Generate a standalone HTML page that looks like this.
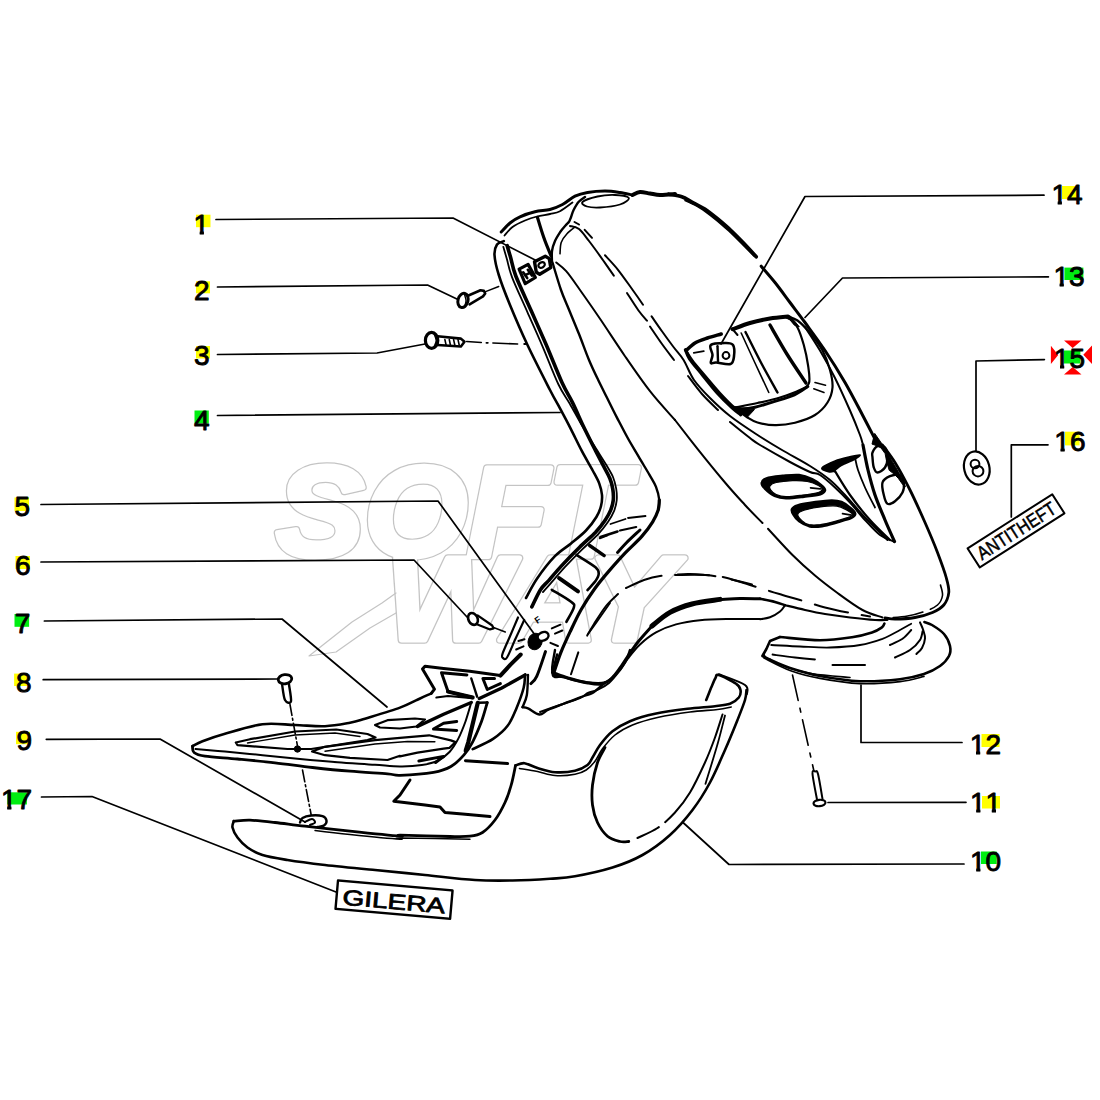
<!DOCTYPE html>
<html><head><meta charset="utf-8"><title>Parts diagram</title>
<style>
html,body{margin:0;padding:0;background:#fff}
body{width:1100px;height:1100px;overflow:hidden}
svg{display:block}
.n{font-family:"Liberation Sans",sans-serif;font-size:28px;fill:#000;stroke:#000;stroke-width:.9px;stroke-linejoin:round}
.wm{font-family:"Liberation Sans",sans-serif;font-weight:bold;font-style:italic;fill:none;stroke:#c4c4c4;stroke-width:1.2px}
.t{font-family:"Liberation Sans",sans-serif;fill:#000;stroke:#000;stroke-width:.6px}
.t0{font-family:"Liberation Sans",sans-serif;fill:#000;stroke:none}
</style></head><body>
<svg width="1100" height="1100" viewBox="0 0 1100 1100">
<rect width="1100" height="1100" fill="#fff"/>
<g fill="none" stroke="#000" stroke-linecap="round" stroke-linejoin="round">
<g class="wm" stroke-linejoin="round" style="stroke-width:7.6px"><text x="276" y="556" font-size="128" textLength="352.7" lengthAdjust="spacingAndGlyphs">SOFT</text><text x="386.5" y="640" font-size="119" textLength="288.2" lengthAdjust="spacingAndGlyphs">WAY</text></g>
<g class="wm" stroke-linejoin="round" style="fill:#fff;stroke:#fff;stroke-width:5.2px"><text x="276" y="556" font-size="128" textLength="352.7" lengthAdjust="spacingAndGlyphs">SOFT</text><text x="386.5" y="640" font-size="119" textLength="288.2" lengthAdjust="spacingAndGlyphs">WAY</text></g>
<path class="wm" d="M396 593 L382 603 L352 622 L309 656 L336 652 L370 628 L396 613"/>
<g stroke="none">
<rect x="196" y="214.7" width="14.5" height="12.5" fill="#ffff00"/>
<rect x="196" y="281.3" width="14" height="12" fill="#ffff00"/>
<rect x="196" y="346" width="14" height="12.5" fill="#ffff00"/>
<rect x="194.5" y="410.5" width="14.3" height="13" fill="#00ee11"/>
<rect x="14.5" y="497.5" width="14.5" height="13.5" fill="#ffff00"/>
<rect x="15.5" y="556" width="14.5" height="13" fill="#ffff00"/>
<rect x="14.5" y="614" width="14.6" height="12.8" fill="#00ee11"/>
<rect x="14.1" y="673.6" width="14" height="12.4" fill="#ffff00"/>
<rect x="16" y="731.8" width="14" height="12.4" fill="#ffff00"/>
<rect x="7.3" y="792.3" width="19.6" height="12.2" fill="#00ee11"/>
<rect x="1062" y="186" width="14.7" height="13" fill="#ffff00"/>
<rect x="1064.4" y="267.6" width="19" height="12.4" fill="#00ee11"/>
<rect x="1063.6" y="350.5" width="16.8" height="13" fill="#00ee11"/>
<rect x="1065" y="431.7" width="14.6" height="13.7" fill="#ffff00"/>
<rect x="981.5" y="734" width="18" height="13" fill="#ffff00"/>
<rect x="982" y="796" width="18" height="12.5" fill="#ffff00"/>
<rect x="981" y="851.5" width="15.7" height="12.5" fill="#00ee11"/>
<path fill="#ff0000" d="M1050.9 345.8L1058.2 354.9L1050.9 364Z M1092 345.5L1083.3 354.8L1092 364Z M1064 340.4L1072.7 348L1081.5 340.4Z M1064 374.5L1072.7 366.9L1081.5 374.5Z"/>
</g>
<clipPath id="c1"><path d="M189.5 202.3H237.5V231H189.5Z M199.7 231H203.9V237.3H199.7Z"/></clipPath>
<text class="n" x="193.5" y="234.3" clip-path="url(#c1)">1</text>
<text class="n" x="194" y="299.8">2</text>
<text class="n" x="194" y="364.8">3</text>
<text class="n" x="194" y="430">4</text>
<text class="n" x="14.5" y="515.8">5</text>
<text class="n" x="15" y="574.8">6</text>
<text class="n" x="14.8" y="633">7</text>
<text class="n" x="16" y="691.8">8</text>
<text class="n" x="16.6" y="750">9</text>
<clipPath id="c2"><path d="M-3 777H45V806H-3Z M7.2 806H11.4V812H7.2Z M16.6 806H32.1V812H16.6Z"/></clipPath>
<text class="n" x="1 16.6" y="809" clip-path="url(#c2)">17</text>
<clipPath id="c3"><path d="M1047.5 171.6H1095.5V200H1047.5Z M1057.7 200H1061.9V206.6H1057.7Z M1067.1 200H1082.6V206.6H1067.1Z"/></clipPath>
<text class="n" x="1051.5 1067.1" y="203.6" clip-path="url(#c3)">14</text>
<clipPath id="c4"><path d="M1049.4 254.3H1097.4V283H1049.4Z M1059.6 283H1063.8V289.3H1059.6Z M1069 283H1084.5V289.3H1069Z"/></clipPath>
<text class="n" x="1053.4 1069" y="286.3" clip-path="url(#c4)">13</text>
<clipPath id="c5"><path d="M1049.8 336.4H1097.8V365H1049.8Z M1060 365H1064.2V371.4H1060Z M1069.4 365H1084.9V371.4H1069.4Z"/></clipPath>
<text class="n" x="1053.8 1069.4" y="368.4" clip-path="url(#c5)">15</text>
<clipPath id="c6"><path d="M1050.3 419.2H1098.3V448H1050.3Z M1060.5 448H1064.7V454.2H1060.5Z M1069.9 448H1085.4V454.2H1069.9Z"/></clipPath>
<text class="n" x="1054.3 1069.9" y="451.2" clip-path="url(#c6)">16</text>
<clipPath id="c7"><path d="M965.8 721.8H1013.8V751H965.8Z M976 751H980.2V756.8H976Z M985.4 751H1000.9V756.8H985.4Z"/></clipPath>
<text class="n" x="969.8 985.4" y="753.8" clip-path="url(#c7)">12</text>
<clipPath id="c8"><path d="M966 780.3H1014V809H966Z M976.2 809H980.4V815.3H976.2Z M991.8 809H996V815.3H991.8Z"/></clipPath>
<text class="n" x="970 985.6" y="812.3" clip-path="url(#c8)">11</text>
<clipPath id="c9"><path d="M966 839H1014V868H966Z M976.2 868H980.4V874H976.2Z M985.6 868H1001.1V874H985.6Z"/></clipPath>
<text class="n" x="970 985.6" y="871" clip-path="url(#c9)">10</text>
<path d="M216 219.5 L453 218 L541 263" stroke-width="1.7"/>
<path d="M217.5 287 L427.5 285 L459 300" stroke-width="1.7"/>
<path d="M217.5 354.5 L377 353 L425 344" stroke-width="1.7"/>
<path d="M217.5 415.5 L560 412.5" stroke-width="1.7"/>
<path d="M41 504.5 L438 501 L535 635" stroke-width="1.7"/>
<path d="M41 562 L414 560 L467.5 617.5" stroke-width="1.7"/>
<path d="M44.4 621 L282 619 L387 707" stroke-width="1.7"/>
<path d="M43.2 679.7 L277 679" stroke-width="1.7"/>
<path d="M46.3 739.3 L160 739 L305 822" stroke-width="1.7"/>
<path d="M41.5 797 L92 796.5 L336 892" stroke-width="1.7"/>
<path d="M1044 195.2 L805 196.5 L721 344" stroke-width="1.7"/>
<path d="M1048.4 276.8 L842.5 278 L805 317.5" stroke-width="1.7"/>
<path d="M1044.4 359.6 L976 361 L976 451" stroke-width="1.7"/>
<path d="M1048 444.8 L1011.3 444.8 L1011.3 517" stroke-width="1.7"/>
<path d="M962 742.5 L861 742.5 L861 685" stroke-width="1.7"/>
<path d="M966 802.3 L828 802.5" stroke-width="1.7"/>
<path d="M964 864 L729 864.5 L683 822.5" stroke-width="1.7"/>
<path d="M503.8 241.2 C502.6 241.8 498.5 242.2 497 244.5 C495.5 246.8 494.2 249.9 494.5 255 C494.8 260.1 496.2 266.7 498.8 275 C501.3 283.3 505.2 293.3 510 305 C514.8 316.7 520.8 330.8 527.5 345 C534.2 359.2 544.6 379.4 550 390 C555.4 400.6 556.5 401.9 560 408.4 C563.5 414.9 567.3 422 570.9 429.1 C574.5 436.2 578.2 444 581.8 450.9 C585.4 457.8 589.8 465.1 592.7 470.5 C595.6 475.9 597.8 479.5 599.3 483.6 C600.8 487.7 601.7 491.3 602 495 C602.3 498.7 601.9 502.3 601 506 C600.1 509.7 598.9 512.9 596.4 517 C593.9 521.1 590.2 526.1 586 530.5 C581.8 534.9 576.2 539.2 571 543.5 C565.8 547.8 560.3 550.6 554.7 556.4 C549.1 562.2 542.1 571.3 537.3 578.2 C532.5 585.1 527.9 594.7 526 598" stroke-width="2.6"/>
<path d="M507.2 245.7 C507.7 247.7 509.2 252.6 510.7 257.7 C512.1 262.7 512.4 267.2 515.8 276 C519.2 284.8 526.1 299.1 531.1 310.5 C536.1 321.9 540.9 332.5 546.1 344.5 C551.3 356.6 557.7 373.2 562.1 382.8 C566.5 392.4 568.9 395.3 572.4 402.4 C575.9 409.5 579.5 418.1 583 425.5 C586.5 432.8 589.9 439.5 593.3 446.3 C596.8 453.1 600.9 460.9 603.6 466.2 C606.4 471.5 608.3 474.4 609.8 478.3 C611.4 482.1 612.2 485.5 612.8 489.1 C613.4 492.8 613.6 496.5 613.3 500 C613 503.4 612.1 506.6 610.8 509.9 C609.5 513.2 607.9 516.1 605.3 519.9 C602.8 523.6 599.7 527.8 595.4 532.4 C591 536.9 584.8 542 579.4 547.4 C573.9 552.7 568 558.8 562.9 564.4 C557.7 569.9 552.1 576.6 548.4 580.9 C544.6 585.1 543.1 585.6 540.3 589.9 C537.6 594.2 533.2 604.1 531.8 606.9" stroke-width="3.6"/>
<path d="M503.3 246.8 C503.9 248.8 505.3 253.7 506.8 258.8 C508.3 263.9 508.7 268.5 512.1 277.4 C515.5 286.3 522.4 300.7 527.4 312.1 C532.5 323.6 537.3 334 542.4 346.1 C547.6 358.2 553.9 374.9 558.5 384.5 C563 394.1 565.8 396.8 569.8 403.7 C573.7 410.6 578.1 418.8 582.2 425.9 C586.3 432.9 590.3 439.3 594.3 445.8 C598.3 452.3 603.1 459.6 606.2 464.8 C609.3 470 611.3 473 613 477 C614.6 480.9 615.5 484.7 616.2 488.6 C616.8 492.5 617.1 496.5 616.7 500.3 C616.3 504.1 615.4 507.6 614 511.2 C612.5 514.8 610.8 517.9 608.1 521.8 C605.4 525.7 602.2 530 597.8 534.7 C593.4 539.4 587.2 544.5 581.7 549.8 C576.3 555.1 570.5 561.1 565.3 566.7 C560.2 572.2 554.6 578.9 550.9 583.1 C547.2 587.4 544.2 590.6 542.9 592.1" stroke-width="1.8"/>
<path d="M537.5 217.5 C538.5 220.8 541.5 231 543.8 237.5 C546 244 550 253.1 551.2 256.2" stroke-width="3.2"/>
<path d="M552.5 262.5 C553.9 267.1 558.3 282.2 561 290 C563.7 297.8 565.7 301.7 568.7 309 C571.7 316.3 575.5 325.3 578.9 333.8 C582.3 342.3 585.8 352.3 589 360 C592.2 367.7 595.2 373.8 598.2 380 C601.2 386.2 603.8 391.3 606.9 397.5 C610 403.7 613.2 410.4 616.7 417.1 C620.2 423.8 624 431.2 627.6 437.8 C631.2 444.4 634.9 450.2 638.5 456.4 C642.1 462.6 646.6 469.8 649.5 474.9 C652.4 480 654.4 482.7 656 486.9 C657.6 491.1 658.9 496.1 659.3 500 C659.7 503.9 658.4 508.3 658.2 510" stroke-width="2.4"/>
<path d="M659.3 500 C659.1 501.7 659.3 506.4 658.2 510 C657.1 513.6 655.4 517.4 652.7 521.8 C650 526.2 646.3 531.2 641.8 536.4 C637.3 541.5 631 547 625.5 552.7 C620 558.5 614.3 564.9 609.1 570.9 C603.9 576.9 599.1 582.6 594.5 589 C589.9 595.4 585.2 602.5 581.2 609.5 C577.2 616.5 573.9 623.8 570.5 631 C567.1 638.2 563.5 645.8 560.7 652.9 C557.9 660 554.8 670.1 553.6 673.6" stroke-width="3.2"/>
<path d="M552 262 C552 260.2 551.5 254.5 552 251 C552.5 247.5 553.6 244.2 555 241 C556.4 237.8 558.5 234.6 560.2 232 C562 229.4 564 227.2 565.5 225.5 C567 223.8 568.1 223.1 569 221.8 C569.9 220.4 570.2 219.2 571 217.2 C571.8 215.3 572.2 212.8 573.5 210.2 C574.8 207.7 576.6 204.2 578.5 202 C580.4 199.8 583.9 197.8 585 197" stroke-width="2.4"/>
<path d="M560 253.8 C560.2 251.9 560.1 245.8 561.2 242.5 C562.4 239.2 564.7 236.3 567 233.8 C569.3 231.2 573.7 228.1 575 227" stroke-width="1.6"/>
<path d="M556.2 262.5 C557.9 264 562.3 266.7 566.2 271.2 C570.2 275.8 574.4 282.1 580 290 C585.6 297.9 592.5 307.7 600 318.8 C607.5 329.8 616.7 344.2 625 356.2 C633.3 368.3 641.7 380.6 650 391.2 C658.3 401.9 670.8 415.2 675 420" stroke-width="2"/>
<path d="M574.5 222 L579 224.5" stroke-width="2"/>
<path d="M584.7 229.8 L592 237.8" stroke-width="2"/>
<path d="M605 255.3 C607.2 257.7 613.4 264 618 269.8 C622.6 275.6 628.5 284.2 632.7 290 C636.9 295.8 641.3 302.2 643 304.7" stroke-width="2"/>
<path d="M651.6 316.4 C653.3 318.8 658.1 325.9 661.8 331 C665.4 336.1 669.9 342.2 673.5 347 C677.1 351.8 680.2 354.5 683.6 360 C687 365.5 689.6 373.7 694 380 C698.4 386.3 704 392 710 398 C716 404 722.3 410 730 416 C737.7 422 747.3 428.3 756 434 C764.7 439.7 773 444.7 782 450 C791 455.3 802 461 810 466 C818 471 824.2 475.2 830 480 C835.8 484.8 839.2 488.8 845 495 C850.8 501.2 857.9 510 865 517.5 C872.1 525 883.8 536.2 887.5 540" stroke-width="2"/>
<path d="M570 226 C571.5 226.5 575.8 226.5 579 229 C582.2 231.5 584.9 235.7 589 241 C593.1 246.3 599.5 255.2 603.6 261 C607.7 266.8 612.1 273.2 613.8 275.6" stroke-width="2"/>
<path d="M627 293 C628.9 295.9 635.2 305.9 638.5 310.5 C641.8 315.1 645.6 319 647 320.7" stroke-width="2"/>
<path d="M650 326.5 C652 329.4 658 338.4 662 344 C666 349.6 672 357.3 674 360" stroke-width="2"/>
<path d="M688 376 C690.3 379 697 388.3 702 394 C707 399.7 715.3 407.3 718 410" stroke-width="2"/>
<path d="M730 422 C733.3 424.7 745 434.2 750 438 C755 441.8 753.3 441 760 445 C766.7 449 781.7 457.5 790 462 C798.3 466.5 805 469.8 810 472 C815 474.2 815.8 472.4 820 475 C824.2 477.6 830 482.9 835 487.5 C840 492.1 845 497.1 850 502.5 C855 507.9 860 514.6 865 520 C870 525.4 875.2 531.4 880 535 C884.8 538.6 891.5 540.4 893.8 541.5" stroke-width="2"/>
<path d="M501.2 232 C502.7 230.5 506.9 225.5 510 223 C513.1 220.5 515.8 218.6 520 216.8 C524.2 214.9 530 213 535 211.8 C540 210.5 545.4 210.7 550 209.5 C554.6 208.3 558.3 206.7 562.5 204.5 C566.7 202.3 570.8 198.2 575 196.2 C579.2 194.2 582.5 193.4 587.5 192.5 C592.5 191.6 599.6 191 605 191 C610.4 191 615.4 191.8 620 192.5 C624.6 193.2 630.4 194.6 632.5 195" stroke-width="3"/>
<path d="M504.5 235.5 C505.8 234.1 509.1 229.5 512.5 227 C515.9 224.5 520.9 222.2 525 220.5 C529.1 218.8 532.8 217.6 537 216.5 C541.2 215.4 546.2 214.9 550 214 C553.8 213.1 556.2 213.2 560 211.2 C563.8 209.3 570.4 204 572.5 202.5" stroke-width="1.8"/>
<path d="M582.5 202 C584.2 200.3 592.1 197.7 597.5 196.5 C602.9 195.3 609.8 194.8 615 195 C620.2 195.2 627.9 196.4 628.8 198 C629.6 199.6 624.8 202.9 620 204.5 C615.2 206.1 605.5 207.2 600 207.5 C594.5 207.8 589.9 207.4 587 206.5 C584.1 205.6 580.8 203.7 582.5 202Z" stroke-width="1.8"/>
<path d="M632.5 195 C633.8 194.5 637.1 192.2 640 192 C642.9 191.8 646.7 193 650 193.5 C653.3 194 655.8 194.9 660 195 C664.2 195.1 672.5 194.2 675 194" stroke-width="4"/>
<path d="M518 617.5 C516.7 620.6 512.6 630.2 510 636.2 C507.4 642.3 503.7 650.1 502.5 653.8 C501.3 657.4 502.2 657.4 503 658 C503.8 658.6 504.9 660.7 507 657.5 C509.1 654.3 512.6 645 515.5 638.8 C518.4 632.5 522.8 623.1 524.2 620" stroke-width="2.2"/>
<path d="M552.4 672.4 C555 673.3 562.1 676.2 568 678 C573.9 679.8 582.3 682 588 683 C593.7 684 598 684.8 602 684 C606 683.2 609 680.7 612 678 C615 675.3 617.3 671.7 620 668 C622.7 664.3 625 660.3 628 656 C631 651.7 634 647 638 642 C642 637 649.7 628.7 652 626" stroke-width="3"/>
<path d="M652 626 C655 623.7 663.3 616.1 670 612.4 C676.7 608.7 683.7 606.2 692 604 C700.3 601.8 715.3 600.2 720 599.4" stroke-width="5"/>
<path d="M720 599.4 C723.3 599.3 733.3 598.7 740 598.6 C746.7 598.5 756.7 598.8 760 598.8" stroke-width="3"/>
<path d="M618 594 C616 596 610 601 606 606 C602 611 597.1 619.1 594 624 C590.9 628.9 588.3 633.7 587.2 635.6" stroke-width="2"/>
<path d="M626 588 C629 586.7 638.3 582 644 580 C649.7 578 652.7 577 660 576 C667.3 575 680.3 574.2 688 574 C695.7 573.8 700.7 574.5 706 575 C711.3 575.5 714.7 576 720 577 C725.3 578 732.7 579.8 738 581 C743.3 582.2 749.7 583.8 752 584.4" stroke-width="2" stroke-dasharray="38 16"/>
<path d="M760 619 C755 619 740 618.8 730 619 C720 619.2 709 619.3 700 620.2 C691 621.1 683.3 622.4 676 624.4 C668.7 626.4 662 629.1 656 632.4 C650 635.7 644.7 640.1 640 644.4 C635.3 648.7 631.3 654.1 628 658.4 C624.7 662.7 623.2 666.3 620 670.4 C616.8 674.5 612.7 679.8 609 683 C605.3 686.2 601.5 687.9 598 689.6 C594.5 691.3 591 691.6 588 693 C585 694.4 584.7 696 580 698 C575.3 700 566.7 702.7 560 705 C553.3 707.3 543.3 710.8 540 712" stroke-width="2"/>
<path d="M675 420 C678.8 424.8 689.2 438.3 697.5 448.8 C705.8 459.2 717.1 473.1 725 482.5 C732.9 491.9 738.8 498.2 745 505 C751.2 511.8 759.6 520 762.5 523" stroke-width="2"/>
<path d="M768 528.8 C772.1 533.1 784.7 547.2 792.5 555 C800.3 562.8 807.5 569.2 815 575.5 C822.5 581.8 829.6 587.2 837.5 593 C845.4 598.8 855 605.9 862.5 610 C870 614.1 879.2 616.2 882.5 617.5" stroke-width="2"/>
<path d="M882.5 445 C884.6 447.9 890.4 455 895 462.5 C899.6 470 905 480 910 490 C915 500 920.4 512.1 925 522.5 C929.6 532.9 934 543.3 937.5 552.5 C941 561.7 944.4 570.8 946.2 577.5 C948.1 584.2 949.2 587.9 948.8 592.5 C948.3 597.1 946.5 601.7 943.8 605 C941 608.3 937.3 610.4 932.5 612.5 C927.7 614.6 921.2 616.4 915 617.5 C908.8 618.6 900 619 895 619 C890 619 886.7 618 885 617.8" stroke-width="2.8"/>
<path d="M940.5 585 C940.8 586.8 943 592.2 942.5 595.5 C942 598.8 940.4 602.4 937.5 605 C934.6 607.6 930 609.4 925 611.2 C920 613.1 913.8 614.9 907.5 616 C901.2 617.1 890.8 617.7 887.5 618" stroke-width="1.6" stroke-dasharray="30 8"/>
<path d="M675 575 C680 575 696.7 574.6 705 575 C713.3 575.4 717.5 575.8 725 577.5 C732.5 579.2 742.5 582.7 750 585 C757.5 587.3 764.6 589.6 770 591.2 C775.4 592.9 777.5 593.5 782.5 595 C787.5 596.5 792.9 597.9 800 600 C807.1 602.1 816.7 605.3 825 607.5 C833.3 609.7 842.5 611.5 850 613 C857.5 614.5 866.7 615.9 870 616.5" stroke-width="2" stroke-dasharray="34 14"/>
<path d="M760 598.8 C762.5 599.3 770.8 600.9 775 602 C779.2 603.1 783.3 604.7 785 605.2" stroke-width="2.6"/>
<path d="M760 619.2 C761.7 618.9 766.7 618.5 770 617.2 C773.3 616 777.5 613.5 780 611.5 C782.5 609.5 784.2 606.3 785 605.2" stroke-width="2"/>
<path d="M785 605.2 C788.3 606 798.3 608.5 805 610 C811.7 611.5 817.5 612.8 825 614 C832.5 615.2 841.7 616.5 850 617.5 C858.3 618.5 868.8 619.6 875 620 C881.2 620.4 885.4 619.8 887.5 619.8" stroke-width="2.2"/>
<path d="M761.5 483 C761.7 481.2 762.8 479.3 766.4 478.1 C769.9 476.9 777.3 476.2 782.7 475.6 C788.2 475.1 794.2 474.3 799.1 474.8 C804 475.4 808.4 477.1 812.2 478.9 C816 480.7 819.8 483.5 822 485.5 C824.2 487.4 825.5 488.9 825.3 490.4 C825 491.9 823.9 493.4 820.4 494.5 C816.8 495.5 809.7 496.2 804 496.9 C798.3 497.6 790.9 498.7 786 498.5 C781.1 498.4 778.1 497.7 774.5 496.1 C771 494.5 766.9 490.9 764.7 488.7 C762.5 486.5 761.2 484.8 761.5 483Z" stroke-width="2" fill="#000"/>
<path d="M770 485.8 C770.9 484.5 772.4 483.4 776.2 482.5 C779.9 481.7 787.4 480.9 792.5 480.7 C797.7 480.5 803 480.7 807.3 481.5 C811.6 482.3 815.9 484.1 818.4 485.5 C820.9 486.8 822.2 488.3 822 489.5 C821.8 490.8 820.4 491.9 817.1 492.8 C813.8 493.7 807.5 494.5 802.4 495.1 C797.2 495.8 790.4 496.9 786 496.7 C781.6 496.6 778.7 495.6 776.2 494.5 C773.6 493.3 771.8 491.5 770.8 490 C769.7 488.6 769.1 487 770 485.8Z" stroke-width="1.2" fill="#fff"/>
<path d="M810.5 487.9 L820.4 488.9" stroke-width="1.6"/>
<path d="M791.7 509.2 C792.4 507.5 793.5 506.3 797.5 505.1 C801.4 503.9 809.7 502.6 815.5 501.8 C821.2 501 827.5 500.2 831.8 500.2 C836.2 500.2 838.4 500.5 841.6 501.8 C844.9 503.2 849.1 506.3 851.5 508.4 C853.8 510.4 855.5 512.5 855.5 514.1 C855.5 515.7 854.3 516.8 851.5 518.2 C848.6 519.5 843.3 520.9 838.4 522.3 C833.5 523.6 826.9 525.7 822 526.4 C817.1 527 812.7 527.2 808.9 526.4 C805.1 525.5 801.7 523.4 799.1 521.5 C796.5 519.5 794.6 517 793.4 514.9 C792.1 512.9 791 510.8 791.7 509.2Z" stroke-width="2" fill="#000"/>
<path d="M797.8 514.4 C798.1 512.7 800.2 511.6 804 510.3 C807.8 509.1 814.9 507.6 820.4 506.9 C825.8 506.2 832.1 505.4 836.7 506.1 C841.3 506.7 845.2 509.3 847.9 510.8 C850.5 512.3 852.7 513.8 852.8 514.9 C852.8 516 851.1 516.3 848.2 517.4 C845.2 518.4 839.7 520.1 835.1 521.3 C830.5 522.5 824.7 524 820.4 524.6 C816 525.1 812 525.2 808.9 524.6 C805.8 523.9 803.7 522.3 801.9 520.6 C800 518.9 797.4 516.1 797.8 514.4Z" stroke-width="1.2" fill="#fff"/>
<path d="M842.5 513.6 L851.5 515.1" stroke-width="1.6"/>
<path d="M863 445 C863.8 449.2 866 461.7 868 470 C870 478.3 872.2 486.7 875 495 C877.8 503.3 881.8 512.2 885 520 C888.2 527.8 892.9 537.9 894.5 541.5" stroke-width="3.2"/>
<path d="M874.9 433.7 L883.1 445.5 L892 461 L898.2 471.6 L905.5 486.7 L902.8 484.7 L898.2 478.2 L894.1 474.1 L889.2 470.3 L886.7 461.8 L885.1 453.6 L881 447.9 L876.1 445.5 L872 444.1 L873.3 438.9Z" fill="#000" stroke-width="1"/>
<path d="M835 471.2 C837.5 475.2 844.2 486.9 850 495 C855.8 503.1 863.3 512.5 870 520 C876.7 527.5 886.7 536.7 890 540" stroke-width="2.2"/>
<path d="M822 467.8 C823.1 466 830.5 462.7 835.1 460.9 C839.7 459.1 845.7 457.8 849.8 456.8 C854 455.8 859.1 454.6 860 455 C860.8 455.4 857.8 457.6 854.7 459.3 C851.7 461 845.1 463.4 841.6 465.3 C838.1 467.3 836 470 833.8 471.1 C831.6 472.1 830.5 472.3 828.5 471.7 C826.6 471.2 820.9 469.6 822 467.8Z" stroke-width="1.6" fill="#000"/>
<path d="M822.5 468.8 L835 471.5" stroke-width="2"/>
<path d="M855 457.5 C855.5 459.6 856.3 465 858 470 C859.7 475 862.2 481.2 865 487.5 C867.8 493.8 873.3 504.2 875 507.5" stroke-width="1.8"/>
<path d="M872.5 452.5 C873.3 450.6 875.4 447.1 877.5 446.2 C879.6 445.4 883.3 445.6 885 447.5 C886.7 449.4 887.5 454.2 887.5 457.5 C887.5 460.8 886.7 465 885 467.5 C883.3 470 879.4 472.5 877.5 472.5 C875.6 472.5 874.6 470 873.8 467.5 C872.9 465 872.7 460 872.5 457.5 C872.3 455 871.7 454.4 872.5 452.5Z" stroke-width="2.4"/>
<path d="M882.5 482.5 C883.5 479.4 887.1 477.5 890 476.2 C892.9 475 897.7 474 900 475 C902.3 476 903.3 479.6 903.8 482.5 C904.2 485.4 904 489.4 902.5 492.5 C901 495.6 897.5 499.4 895 501.2 C892.5 503.1 889.4 504.8 887.5 503.8 C885.6 502.7 884.6 498.5 883.8 495 C882.9 491.5 881.5 485.6 882.5 482.5Z" stroke-width="2.4"/>
<path d="M884.4 623.6 C883.9 624.3 883.7 626.1 881.6 627.6 C879.5 629.1 876.9 630.8 872 632.4 C867.1 634 860.7 635.9 852 637.2 C843.3 638.5 832 640.2 820 640.2 C808 640.2 786.7 637.5 780 637" stroke-width="2.6"/>
<path d="M780 637 L770 641 L766.4 649 L762.4 656 L770 659.6" stroke-width="2.6"/>
<path d="M770 659.6 C773.3 661 781.7 665.3 790 668 C798.3 670.7 808.3 673.8 820 676 C831.7 678.2 846.7 680.7 860 681.2 C873.3 681.7 889.3 680.4 900 679.2 C910.7 678 917.3 676.2 924 674 C930.7 671.8 935.8 669 940 666 C944.2 663 947.3 659.3 949 656 C950.7 652.7 950.8 649.7 950 646 C949.2 642.3 947 637.5 944 634 C941 630.5 935.3 627 932 625 C928.7 623 925.7 622.5 924.4 622" stroke-width="2.6"/>
<path d="M920 622.4 C920.5 623.7 922.4 627.3 923.2 630 C924 632.7 925.2 635.4 925 638.4 C924.8 641.4 923.4 645.4 922 648 C920.6 650.6 917.3 653 916.4 654" stroke-width="2"/>
<path d="M764 658 C768.3 660.1 780.7 667 790 670.4 C799.3 673.8 808.3 676.2 820 678.4 C831.7 680.6 846.7 683.1 860 683.6 C873.3 684.1 889.3 682.8 900 681.6 C910.7 680.4 920 677.3 924 676.4" stroke-width="1.6"/>
<path d="M771.2 645 C776 645.2 790.2 646.1 800 646.5 C809.8 646.9 820 647.8 830 647.5 C840 647.2 851.2 646.5 860 645 C868.8 643.5 875.8 641.2 882.5 638.8 C889.2 636.2 895.2 632.5 900 630 C904.8 627.5 909.4 624.8 911.2 623.8" stroke-width="1.8"/>
<path d="M772.5 654.5 C776.2 655 787.9 656.7 795 657.5 C802.1 658.3 811.7 659.2 815 659.5" stroke-width="1.8"/>
<path d="M832.5 665 L865 665" stroke-width="2" stroke-dasharray="50 14"/>
<path d="M895 657.5 C897.5 656.2 905.8 652.9 910 650 C914.2 647.1 917.8 643.5 920 640 C922.2 636.5 922.5 630.6 923 628.8" stroke-width="2" stroke-dasharray="40 14"/>
<path d="M890 645 C892.1 644 899 641.2 902.5 638.8 C906 636.2 909.8 631.5 911.2 630" stroke-width="2" stroke-dasharray="30 12"/>
<path d="M668.8 194.2 C670.9 194.7 678 195.5 681.8 196.8 C685.5 198 687.7 199.7 691.5 201.8 C695.3 203.8 700.4 206.1 704.8 209 C709.1 211.9 713.4 215.4 717.8 219 C722.1 222.6 726.6 226.4 731 230.5 C735.4 234.6 739.8 239.1 744 243.5 C748.2 247.9 754.2 254.5 756.2 256.8" stroke-width="3.6"/>
<path d="M685 200.5 C687.5 201.8 695 204.9 700 208 C705 211.1 710.2 215.2 715 219 C719.8 222.8 724.2 226.8 728.8 231 C733.2 235.2 737.8 239.8 742 244 C746.2 248.2 751.8 254 753.8 256" stroke-width="1.6"/>
<path d="M761.2 266.2 C763.5 269 770.2 276.5 775 282.5 C779.8 288.5 785 295.8 790 302.5 C795 309.2 799.2 314.5 805 322.5 C810.8 330.5 818.3 340.5 825 350.5 C831.7 360.5 838.8 371.8 845 382.5 C851.2 393.2 857 404.6 862.5 415 C868 425.4 875.4 440 878 445" stroke-width="3"/>
<path d="M805 327 C807.5 330.9 815 342 820 350.5 C825 359 830 368 835 378 C840 388 845.8 401 850 410.5 C854.2 420 857.8 429.2 860 435 C862.2 440.8 862.5 443.3 863 445" stroke-width="2"/>
<path d="M686.2 350.5 C687.7 349.2 691.5 345.1 695 343 C698.5 340.9 703.1 339.5 707.5 338 C711.9 336.5 719 334.7 721.2 334" stroke-width="3.6"/>
<path d="M686.2 350.5 C687.3 352.2 689.4 356.3 692.5 360.5 C695.6 364.7 700.4 370.1 705 375.5 C709.6 380.9 715 387.6 720 393 C725 398.4 730.4 403.9 735 408 C739.6 412.1 743.8 415.1 747.5 417.5 C751.2 419.9 752.9 421.2 757.5 422.5 C762.1 423.8 768.8 425.2 775 425.2 C781.2 425.3 788.3 424.5 795 422.8 C801.7 421 809.6 418.4 815 415 C820.4 411.6 824.6 407.1 827.5 402.5 C830.4 397.9 832.1 392.9 832.5 387.5 C832.9 382.1 831.7 376.2 830 370 C828.3 363.8 825.8 356.7 822.5 350.5 C819.2 344.3 814.2 338 810 333 C805.8 328 801.2 323.2 797.5 320.5 C793.8 317.8 789.6 317.2 788 316.5" stroke-width="2.2"/>
<path d="M732.5 329.2 C735.4 328.2 743.8 324.8 750 323 C756.2 321.2 763.7 319.6 770 318.5 C776.3 317.4 785 316.8 788 316.5" stroke-width="4"/>
<path d="M788 316.5 C789.6 318.3 794.9 322.8 797.5 327.5 C800.1 332.2 802 338.8 803.8 345 C805.5 351.2 807.1 358.7 808 365 C808.9 371.3 810.3 378.8 809 383 C807.7 387.2 804.8 387.6 800 390 C795.2 392.4 787.1 395.3 780 397.5 C772.9 399.7 765.2 401.3 757.5 403 C749.8 404.7 737.9 407 734 407.8" stroke-width="2.2"/>
<path d="M732.5 329.2 L737.5 335" stroke-width="2"/>
<path d="M741.2 333 C743.5 338 750.4 353.1 755 363 C759.6 372.9 766.5 387.6 768.8 392.5" stroke-width="1.6"/>
<path d="M745.5 332 C748.1 337.2 755.9 352.9 761.2 363 C766.6 373.1 774.8 387.6 777.5 392.5" stroke-width="2.4"/>
<path d="M770 325 C772.9 330 781.5 345.3 787.5 355 C793.5 364.7 802.9 378.3 806 383" stroke-width="3.4"/>
<path d="M732 407 L747.5 417 L754.5 409.5 L742.5 410Z" fill="#000" stroke-width="1"/>
<path d="M693.8 352.8 L703.8 351.2" stroke-width="1.8"/>
<path d="M815 382.5 L825.5 385.2" stroke-width="1.6"/>
<path d="M813.8 388.8 L824 392.5" stroke-width="1.6"/>
<path d="M710.8 345 C712.8 343 721.3 343 725 343 C728.7 343 731.5 342.8 733 345 C734.5 347.2 734.4 353.1 734 356.2 C733.6 359.4 733.5 363 730.5 364 C727.5 365 719.5 362.7 716.2 362.5 C713 362.3 711.4 364.2 710.8 363 C710.1 361.8 712.5 358 712.5 355 C712.5 352 708.7 347 710.8 345Z" stroke-width="2.6"/>
<circle cx="726" cy="355.5" r="3.4" stroke-width="2"/>
<path d="M717.5 346.2 L718 361.2" stroke-width="2.4"/>
<path d="M685.5 349.7 C686.2 351.2 686.8 354.5 689.6 358.7 C692.5 363 698.1 369.4 702.7 375.1 C707.4 380.8 712.5 387.6 717.5 393.1 C722.4 398.5 728.3 404.2 732.2 407.8 C736.1 411.4 739.3 413.5 740.7 414.7" stroke-width="3.4"/>
<path d="M782.9 316.2 L790.3 315.9 L799.3 326.8 L794.4 325.2 L790.3 320.3Z" fill="#000" stroke-width="1"/>
<path d="M733.8 407.2 C735.2 407.4 738.5 408.8 742 408.8 C745.5 408.8 749.6 408.4 755.1 407.2 C760.5 405.9 768.2 403.5 774.7 401.4 C781.3 399.4 788.9 397.4 794.4 394.9 C799.9 392.4 805.5 387.9 807.8 386.5" stroke-width="3"/>
<path d="M192.5 746.2 C194.2 745.4 197.1 743.3 202.5 741.2 C207.9 739.2 215 736.6 225 733.8 C235 730.9 250.8 725.7 262.5 724.2 C274.2 722.8 284.6 724.7 295 725 C305.4 725.3 315.8 726.6 325 726.2 C334.2 725.9 343.3 724 350 722.8 C356.7 721.5 356.7 721.3 365 718.8 C373.3 716.2 391.5 710.7 400 707.6 C408.5 704.6 410.8 702.7 416 700.4 C421.2 698 428.7 694.5 431.3 693.4" stroke-width="2.6"/>
<path d="M431.3 693.4 L434.5 689.2 L422.5 669.1 L425 666.2 L443.6 668.4 L469.8 671.3 L500.4 675.6" stroke-width="3"/>
<path d="M192.5 746.2 C192.8 747.3 191.9 750.8 194 752.5 C196.1 754.2 197.8 755.2 205 756.2 C212.2 757.3 225.8 757.9 237.5 759 C249.2 760.1 262.5 761.3 275 762.8 C287.5 764.2 300 766.1 312.5 767.5 C325 768.9 337.5 770.2 350 771.2 C362.5 772.3 379.2 773.1 387.5 773.8 C395.8 774.4 392.3 775.5 400 775.3 C407.7 775 425 773.8 433.5 772.4 C441.9 770.9 445.8 769.5 450.9 766.5 C456 763.6 460.4 759 464 754.9 C467.6 750.8 469.8 747.4 472.7 741.8 C475.6 736.2 479 728 481.5 721.5 C483.9 714.9 486.3 705.7 487.3 702.5" stroke-width="2.8"/>
<path d="M195.5 749 C200.4 749.4 213.8 750.5 225 751.5 C236.2 752.5 250 754 262.5 755.2 C275 756.5 287.5 757.8 300 759 C312.5 760.2 325 761.3 337.5 762.2 C350 763.2 364.6 764 375 764.8 C385.4 765.5 392.2 766.5 400 766.5 C407.8 766.6 415.5 766.1 421.8 765.1 C428.1 764.1 433.2 762.9 437.8 760.7 C442.4 758.5 446.1 755.6 449.5 752 C452.8 748.4 455.5 744 458.2 738.9 C460.8 733.8 463.3 727.5 465.5 721.5 C467.6 715.4 470.3 705.7 471.3 702.5" stroke-width="2"/>
<path d="M477.8 702.8 L468.4 741.8 L465.7 750.5" stroke-width="4.2"/>
<path d="M487.3 702.5 L477.8 702.8" stroke-width="2.4"/>
<path d="M235.8 742.5 L250 739.2 L295 731.5 L336.2 729.5 L367.5 734 L375.5 737.5 L367.5 740 L311.2 749 L287.5 749 L237.5 745.2Z" stroke-width="2.2"/>
<path d="M247.5 743 L295 735 L335 733 L360 736.5" stroke-width="1.4"/>
<path d="M400 755.8 L387.5 760 L350 757.8 L325 755.2 L312 751.5 L325 746.8 L375 740.2 L400 737.8 L429.1 735.3 L450.9 740.4 L455.6 742.1 L449.5 747.9 L443.6 748.7 L417.5 752.7 L400 756.4Z" stroke-width="2.2"/>
<path d="M325 751.2 L375 744 L407.5 741.5 L434.9 741.8" stroke-width="1.4"/>
<path d="M375 725 L387.5 720.2 L415 718.5 L425 719.5 L416.2 726.5 L400 728.5 L380 727.5Z" stroke-width="2.2"/>
<path d="M417.5 726.5 L443.6 714.2 L471.3 702.5" stroke-width="3.4"/>
<path d="M456.7 730.5 L433.5 729 L443.6 723.2 L456.7 721.5" stroke-width="3"/>
<path d="M418.9 761 L443.6 756.4 L435.6 762.5" stroke-width="3"/>
<path d="M466.9 674.9 L441.5 672.7 L448 691.6 L472.7 697.5" stroke-width="3"/>
<path d="M448 691.6 L472.7 697.5" stroke-width="4"/>
<path d="M471.3 678.5 L477.1 696.7" stroke-width="2.4"/>
<path d="M494.5 678.5 L482.9 678.5 L487.3 689.5 L500.4 683.6" stroke-width="3"/>
<path d="M436.4 697.5 L448 696 L472.7 698.2" stroke-width="2.2"/>
<path d="M500.4 675.6 L510.5 664.7 L520.7 654.5" stroke-width="4"/>
<path d="M479.3 698.5 L501.8 688 L525.1 674.9" stroke-width="3.4"/>
<path d="M525.1 674.9 C524.8 677.1 525.1 682.4 523.6 688 C522.2 693.6 519 702.1 516.4 708.4 C513.7 714.7 511.5 720.7 507.6 725.8 C503.8 730.9 498.9 735 493.1 738.9 C487.3 742.8 476.1 747.4 472.7 749.1" stroke-width="2.6"/>
<path d="M465.5 760.7 L507.6 763.6" stroke-width="3"/>
<path d="M528 674.9 C527.8 678.3 527.8 689.9 526.8 695.3 C525.9 700.7 523.2 705.2 522.5 707.2" stroke-width="2.4"/>
<path d="M522.5 707.2 C523.4 707.4 525.1 707.2 528 708.4 C530.9 709.6 536 714.4 539.6 714.5 C543.3 714.6 542.9 712 550 709 C557.1 706 575.4 699.2 582.5 696.5 C589.6 693.8 588.8 695.3 592.5 693 C596.2 690.7 602.9 684.2 605 682.5" stroke-width="2.4"/>
<path d="M545.5 651.6 C544 655.8 539.2 671 536.7 676.4 C534.3 681.7 531.9 682.4 530.9 683.6" stroke-width="3"/>
<path d="M557.1 654.5 C556.4 657.9 552.2 671.2 552.7 674.9 C553.2 678.6 558.8 676.4 560 676.7" stroke-width="2.4"/>
<path d="M555 650 C554.6 653.8 550.8 667.9 552.5 672.5 C554.2 677.1 559.2 675.8 565 677.5 C570.8 679.2 580.8 681.7 587.5 682.5 C594.2 683.3 600.4 683.8 605 682.5 C609.6 681.2 611.7 678.3 615 675 C618.3 671.7 622.5 666.7 625 662.5 C627.5 658.3 629.2 652.1 630 650" stroke-width="2.4"/>
<path d="M410 780 L400 795 L393.8 801.2 L425 805 L440 807 L445 812.5 L462.5 814 L490 816.5" stroke-width="3"/>
<ellipse cx="285" cy="679.2" rx="6.8" ry="4.6" stroke-width="2.8" transform="rotate(-8 285 679.2)"/>
<path d="M282 683.8 C282.5 686.5 283.5 697.1 285 700 C286.5 702.9 290.4 704 291 701.2 C291.6 698.5 289.1 686.2 288.8 683.2" stroke-width="2.4"/>
<path d="M290 704.5 L297.5 746.2" stroke-width="1.6" stroke-dasharray="11 3 2 3"/>
<path d="M302.5 770 L311.2 815" stroke-width="1.6" stroke-dasharray="12 3 2 3"/>
<circle cx="297.5" cy="749" r="3.2" fill="#000" stroke-width="1"/>
<path d="M300 822.5 C300.4 821.8 300.6 819.2 302.5 818 C304.4 816.8 307.9 815.8 311.2 815.5 C314.6 815.2 320 815.4 322.5 816.2 C325 817.1 326.2 819 326.5 820.5 C326.8 822 325.5 824.4 324 825.5 C322.5 826.6 318.6 826.8 317.5 827" stroke-width="2.4"/>
<path d="M305 822 C306.2 821.5 310.3 818.9 312 819 C313.7 819.1 315.3 821.5 315 822.5 C314.7 823.5 310.8 824.6 310 825" stroke-width="2"/>
<path d="M233.8 821.2 C236.5 821.1 243.1 820 250 820.2 C256.9 820.5 265.8 821.5 275 822.5 C284.2 823.5 292.5 824.8 305 826.2 C317.5 827.7 334.2 829.6 350 831.2 C365.8 832.9 391.7 835.6 400 836.2 C408.3 836.9 391.7 835.2 400 835.2 C408.3 835.3 438.3 836.3 450 836.5 C461.7 836.7 464.6 836.9 470 836.2 C475.4 835.6 478.3 835.2 482.5 832.5 C486.7 829.8 491.2 825 495 820 C498.8 815 502.3 808.3 505 802.5 C507.7 796.7 509.5 791.2 511.2 785 C513 778.8 514.8 768.8 515.5 765.5" stroke-width="2.8"/>
<path d="M315 830.5 C320.8 831.2 335.8 833 350 834.5 C364.2 836 391.7 838.7 400 839.2 C408.3 839.8 388.3 838 400 838 C411.7 838 458.3 839 470 839.2" stroke-width="1.4"/>
<path d="M233.8 821.2 C233.5 822.3 231.9 824.8 232.5 827.5 C233.1 830.2 235 834.2 237.5 837.5 C240 840.8 243.3 844.6 247.5 847.5 C251.7 850.4 255.8 852.9 262.5 855 C269.2 857.1 277.1 858.3 287.5 860 C297.9 861.7 310.4 863.3 325 865 C339.6 866.7 366.7 869.2 375 870 C383.3 870.8 366.7 869.2 375 870 C383.3 870.8 408.3 873.3 425 875 C441.7 876.7 460.4 879.1 475 880 C489.6 880.9 500 880.7 512.5 880.5 C525 880.3 539.6 879.5 550 878.8 C560.4 878 564.6 878.1 575 876.2 C585.4 874.4 601.2 871 612.5 867.5 C623.8 864 632.9 860.4 642.5 855 C652.1 849.6 661.7 842.5 670 835 C678.3 827.5 685.8 818.8 692.5 810 C699.2 801.2 704.6 792.5 710 782.5 C715.4 772.5 720.4 760.4 725 750 C729.6 739.6 734.2 728.3 737.5 720 C740.8 711.7 743.5 705 745 700 C746.5 695 746.2 691.7 746.5 690" stroke-width="2.6"/>
<path d="M515.5 765.5 C517 765.1 520.8 762.8 524.5 763.2 C528.2 763.7 532.4 766.5 537.5 768 C542.6 769.5 548.8 771.8 555 772.2 C561.2 772.7 569.6 772 575 770.8 C580.4 769.5 584.6 767.2 587.5 765 C590.4 762.8 590.4 760.8 592.5 757.5 C594.6 754.2 596.7 749.4 600 745 C603.3 740.6 607.5 735.2 612.5 731.2 C617.5 727.3 622.9 724.2 630 721.2 C637.1 718.3 645.4 715.8 655 713.8 C664.6 711.7 677.5 710 687.5 708.8 C697.5 707.5 707.9 707.1 715 706.2 C722.1 705.4 726 705.2 730 703.8 C734 702.3 737 699.8 738.8 697.5 C740.5 695.2 740.9 692.3 740.5 690 C740.1 687.7 739.9 686.2 736.2 683.8 C732.6 681.2 722.2 676 718.8 675 C715.3 674 716.8 675.9 715.5 678 C714.2 680.1 712.8 683.8 711.2 687.5 C709.7 691.2 707.1 697.9 706.2 700" stroke-width="2.6"/>
<path d="M519.5 768.5 C522.5 769 531.6 770.3 537.5 771.5 C543.4 772.7 548.8 775 555 775.5 C561.2 776 569.8 775.2 575 774.2 C580.2 773.3 582.9 772.2 586.2 770 C589.6 767.8 592.3 764.8 595 761.2 C597.7 757.7 599.2 753.1 602.5 748.8 C605.8 744.4 610 739 615 735 C620 731 625.4 727.9 632.5 725 C639.6 722.1 647.9 719.7 657.5 717.5 C667.1 715.3 680 713.3 690 712 C700 710.7 710.6 710.3 717.5 709.5 C724.4 708.7 729 707.4 731.2 707" stroke-width="1.6"/>
<path d="M718.8 674.2 C723.1 676 740.3 681.7 745 685 C749.7 688.3 746.7 692.5 747 694" stroke-width="2"/>
<path d="M605 747.5 C603.8 750 599.6 756.2 597.5 762.5 C595.4 768.8 593.3 777.9 592.5 785 C591.7 792.1 591.7 798.8 592.5 805 C593.3 811.2 595 817.3 597.5 822.5 C600 827.7 603.8 833.1 607.5 836.2 C611.2 839.4 616.5 840.6 620 841.5 C623.5 842.4 627.3 841.5 628.8 841.5" stroke-width="2.8"/>
<path d="M637.5 838 C640.8 836.3 651.2 832.2 657.5 828 C663.8 823.8 669.6 818.4 675 812.5 C680.4 806.6 685 800.8 690 792.5 C695 784.2 700.8 771.7 705 762.5 C709.2 753.3 712.1 745.5 715 737.5 C717.9 729.5 721.2 718.3 722.5 714.5" stroke-width="2" stroke-dasharray="24 8 400"/>
<path d="M725 715.5 C723.8 720 721.2 731.1 718 742.5 C714.8 753.9 707.6 776.9 705.5 783.8" stroke-width="1.8"/>
<ellipse cx="819.5" cy="803" rx="6" ry="3.2" stroke-width="2.2" transform="rotate(-6 819.5 803)"/>
<path d="M817 799.5 C816.2 795.2 812.8 778.4 812.5 773.8 C812.2 769.1 814.6 771.5 815.5 771.5 C816.4 771.5 816.8 769.4 818 774 C819.2 778.6 821.8 794.8 822.5 799" stroke-width="2"/>
<path d="M792.5 675 L813.8 770.5" stroke-width="1.6" stroke-dasharray="26 8 4 8"/>
<path d="M763.8 653.8 C764.4 654.6 763.5 656.5 767.5 658.8 C771.5 661 780 665 787.5 667.5 C795 670 802.1 672.1 812.5 673.8 C822.9 675.4 843.8 676.9 850 677.5" stroke-width="1.6"/>
<g transform="translate(338 880.5) rotate(5)"><rect x="0" y="0" width="115" height="28.5" stroke-width="2.4" fill="#fff"/><text class="t" x="6" y="23.5" font-size="21.5" textLength="103" lengthAdjust="spacingAndGlyphs" style="stroke-width:.8px">GILERA</text></g>
<path d="M467.9 295.7 L480.5 290.3 L483.9 290.9 L485.2 293.5 L483 296.4 L469.6 304.3" stroke-width="2.6" fill="#fff"/>
<ellipse cx="463" cy="300.4" rx="5" ry="7.2" stroke-width="3" fill="#fff" transform="rotate(15 463 300.4)"/>
<path d="M464.5 294.5 C464.8 295.5 465.9 298.5 466 300.4 C466.1 302.2 465.2 304.6 465 305.5" stroke-width="1.4"/>
<path d="M485.6 291.6 L498.7 286.5" stroke-width="1.5"/>
<path d="M437.6 336.3 L460.9 338.6 L464.5 341.8 L460.9 346.5 L437.6 345" stroke-width="2.6" fill="#fff"/>
<ellipse cx="431.6" cy="340.4" rx="6.2" ry="8" stroke-width="3.2" fill="#fff" transform="rotate(0 431.6 340.4)"/>
<path d="M434 333.8 C434.4 334.9 436.2 338.2 436.2 340.4 C436.2 342.5 434.4 345.8 434 346.9" stroke-width="1.4"/>
<path d="M444.9 339.6 L446.1 345" stroke-width="1.6"/>
<path d="M449.3 339.6 L450.4 345" stroke-width="1.6"/>
<path d="M453.6 339.6 L454.8 345" stroke-width="1.6"/>
<path d="M458 339.6 L459.2 345" stroke-width="1.6"/>
<path d="M466.7 341.5 L481.3 342.5" stroke-width="1.6"/>
<path d="M486.4 342.8 L487.8 342.8" stroke-width="1.8"/>
<path d="M492.9 343 L517.6 344" stroke-width="1.6"/>
<path d="M524.2 344 L525.6 344" stroke-width="1.8"/>
<path d="M519.1 269.1 L528.1 264.4 L535.4 277.5 L525.2 283.6Z" stroke-width="3.2"/>
<path d="M523.2 272.3 L527.2 278.1" stroke-width="2.6"/>
<path d="M527.8 269.8 L531.9 275.6" stroke-width="2.6"/>
<path d="M525.2 275.2 L529.9 272.9" stroke-width="2.6"/>
<path d="M534.5 261.8 L545.3 256.3 L549.3 258.6 L550.8 267.6 L539.7 274.3 L536.3 272.3Z" stroke-width="3.4" fill="#fff"/>
<ellipse cx="541.6" cy="265" rx="3.4" ry="2.6" stroke-width="2.2" fill="none" transform="rotate(-30 541.6 265)"/>
<path d="M477.6 615.3 L492.2 625.5 L493.6 628.4 L490 629.4 L476.2 624" stroke-width="2.2" fill="#fff"/>
<ellipse cx="473" cy="618.9" rx="4.6" ry="6.2" stroke-width="2.6" fill="#fff" transform="rotate(-25 473 618.9)"/>
<path d="M492.9 627.2 L505.3 632" stroke-width="1.5"/>
<ellipse cx="535.1" cy="641.5" rx="7" ry="8.4" stroke-width="1" fill="#000" transform="rotate(20 535.1 641.5)"/>
<ellipse cx="543.1" cy="636.4" rx="5.6" ry="4.2" stroke-width="2.4" fill="#fff" transform="rotate(-25 543.1 636.4)"/>
<text class="t0" font-size="9" font-weight="bold" transform="translate(537.3 624) rotate(-35)">F</text>
<path d="M551.8 628.4 L560.5 624.7" stroke-width="2"/>
<path d="M555 633.7 L562.3 630.5" stroke-width="2"/>
<path d="M550.4 642.9 L557.9 646" stroke-width="2"/>
<path d="M518.4 641 L524.5 639.3" stroke-width="2"/>
<path d="M516.2 649.5 L523.5 646.3" stroke-width="2"/>
<path d="M589.6 545.5 L604.2 555.6" stroke-width="3.4"/>
<path d="M576.5 554.9 C579.7 557 591.8 564.1 595.5 567.3 C599.1 570.4 598.7 571.5 598.7 573.8 C598.7 576.1 597.3 578.4 595.5 581.1 C593.6 583.8 588.8 588.6 587.5 590.1" stroke-width="2.6"/>
<path d="M559.1 578.2 L578 591.3" stroke-width="4"/>
<path d="M551.8 589.8 C555 591.8 567 598.5 570.7 601.5 C574.4 604.4 574.7 603.9 573.9 607.3 C573.2 610.7 567.6 619.4 566.4 621.8" stroke-width="2.6"/>
<path d="M599.8 538.2 L607.4 535.3" stroke-width="2"/>
<path d="M610.5 524 L625.5 519" stroke-width="1.8"/>
<path d="M628 518 L645.5 516" stroke-width="1.8"/>
<path d="M600.5 537 L617.5 531.5" stroke-width="2.6"/>
<path d="M620 530.5 L636.2 527" stroke-width="2.2"/>
<path d="M640 530 C637.7 532.2 630 539.2 626.2 543 C622.5 546.8 619 550.9 617.5 552.5" stroke-width="3"/>
<path d="M610 602.9 C607.8 606.1 600.5 616.7 596.9 621.8 C593.3 627 589.6 631.8 588.2 633.7" stroke-width="1.8"/>
<path d="M578.3 652.4 L571 674.2" stroke-width="2"/>
<ellipse cx="976.8" cy="468" rx="12.6" ry="16.8" stroke-width="2.2" fill="none" transform="rotate(-14 976.8 468)"/>
<ellipse cx="975" cy="464" rx="4.4" ry="4.2" stroke-width="2" fill="none" transform="rotate(0 975 464)"/>
<ellipse cx="978" cy="471.2" rx="5.4" ry="5.2" stroke-width="2" fill="none" transform="rotate(0 978 471.2)"/>
<g transform="translate(967.6 548.4) rotate(-32.6)"><rect x="0" y="0" width="100.5" height="22.6" stroke-width="2" fill="#fff"/><text class="t" x="5.5" y="18" font-size="19" textLength="90" lengthAdjust="spacingAndGlyphs" style="stroke-width:.5px">ANTITHEFT</text></g>
</g>
</svg>
</body></html>
